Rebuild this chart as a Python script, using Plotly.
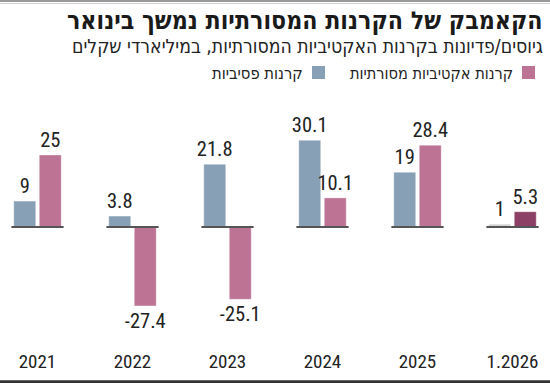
import plotly.graph_objects as go

categories = ["2021", "2022", "2023", "2024", "2025", "1.2026"]
passive = [9, 3.8, 21.8, 30.1, 19, 1]
active = [25, -27.4, -25.1, 10.1, 28.4, 5.3]
passive_colors = ["#87a0b5"] * 5 + ["#d3d3d3"]
active_colors = ["#bd7394"] * 5 + ["#8c4065"]

title = "הקאמבק של הקרנות המסורתיות נמשך בינואר"
subtitle = "גיוסים/פדיונות בקרנות האקטיביות המסורתיות, במיליארדי שקלים"
legend_active = "קרנות אקטיביות מסורתיות"
legend_passive = "קרנות פסיביות"

NUM_FONT = "Roboto Condensed, DejaVu Sans Condensed, sans-serif"
HEB_FONT = "DejaVu Sans Condensed, Liberation Sans, sans-serif"
W, H = 550, 383
T, B = 100, 38
ph = H - T - B

def py(ypx):
    return (H - B - ypx) / ph

xs = list(range(len(categories)))

fig = go.Figure()
fig.add_trace(go.Bar(
    x=xs, y=passive, name=legend_passive,
    marker=dict(color=passive_colors, line=dict(color="rgba(255,255,255,0.35)", width=1)),
    text=[f"{v:g}" for v in passive], textposition="outside", constraintext="none",
    textfont=dict(family=NUM_FONT, size=20.5, color="#222"), cliponaxis=False,
))
fig.add_trace(go.Bar(
    x=xs, y=active, name=legend_active,
    marker=dict(color=active_colors, line=dict(color="rgba(255,255,255,0.35)", width=1)),
    text=[f"{v:g}" for v in active], textposition="outside", constraintext="none",
    textfont=dict(family=NUM_FONT, size=20.5, color="#222"), cliponaxis=False,
))

shapes = []
for i in xs:
    shapes.append(dict(type="line", xref="x", yref="y", x0=i - 0.275, x1=i + 0.275, y0=0, y1=0,
                       line=dict(color="#555", width=2)))
shapes.append(dict(type="line", xref="paper", yref="paper", x0=0, x1=1, y0=py(1), y1=py(1),
                   line=dict(color="#9a9a9a", width=2)))
shapes.append(dict(type="line", xref="paper", yref="paper", x0=0, x1=1, y0=py(3.5), y1=py(3.5),
                   line=dict(color="#d0d0d0", width=1)))
shapes.append(dict(type="line", xref="paper", yref="paper", x0=0, x1=1, y0=py(381.8), y1=py(381.8),
                   line=dict(color="#333", width=3)))
shapes.append(dict(type="rect", xref="paper", yref="paper", x0=522 / W, x1=535 / W, y0=py(79), y1=py(66),
                   fillcolor="#bd7394", line=dict(width=0)))
shapes.append(dict(type="rect", xref="paper", yref="paper", x0=312 / W, x1=325 / W, y0=py(79), y1=py(66),
                   fillcolor="#87a0b5", line=dict(width=0)))

annotations = [
    dict(text=f"<b>{title}</b>", x=545 / W, y=py(20), xref="paper", yref="paper", xanchor="right",
         yanchor="middle", showarrow=False, font=dict(family=HEB_FONT, size=24.7, color="#1a1a1a")),
    dict(text=subtitle, x=545 / W, y=py(46), xref="paper", yref="paper", xanchor="right",
         yanchor="middle", showarrow=False, font=dict(family=HEB_FONT, size=19.2, color="#222")),
    dict(text=legend_active, x=515 / W, y=py(73), xref="paper", yref="paper", xanchor="right",
         yanchor="middle", showarrow=False, font=dict(family=HEB_FONT, size=16.2, color="#222")),
    dict(text=legend_passive, x=305 / W, y=py(73), xref="paper", yref="paper", xanchor="right",
         yanchor="middle", showarrow=False, font=dict(family=HEB_FONT, size=16.4, color="#222")),
]

zero_px = 227
scale = 2.88
fig.update_layout(
    width=W, height=H,
    margin=dict(l=0, r=0, t=T, b=B, pad=0),
    paper_bgcolor="white", plot_bgcolor="white",
    showlegend=False,
    barmode="group", bargap=0.463, bargroupgap=0.14,
    xaxis=dict(range=[-37.5 / 95, 5 + 37.5 / 95], tickmode="array", tickvals=xs, ticktext=categories,
               showgrid=False, zeroline=False, showline=False, ticks="", ticklabelstandoff=3,
               tickfont=dict(family=NUM_FONT, size=19, color="#222")),
    yaxis=dict(range=[-(H - B - zero_px) / scale, (zero_px - T) / scale], visible=False,
               showgrid=False, zeroline=False),
    shapes=shapes, annotations=annotations,
)

fig.write_html("out.html", config={"displayModeBar": False},
               post_script="document.body.style.margin='0';")
